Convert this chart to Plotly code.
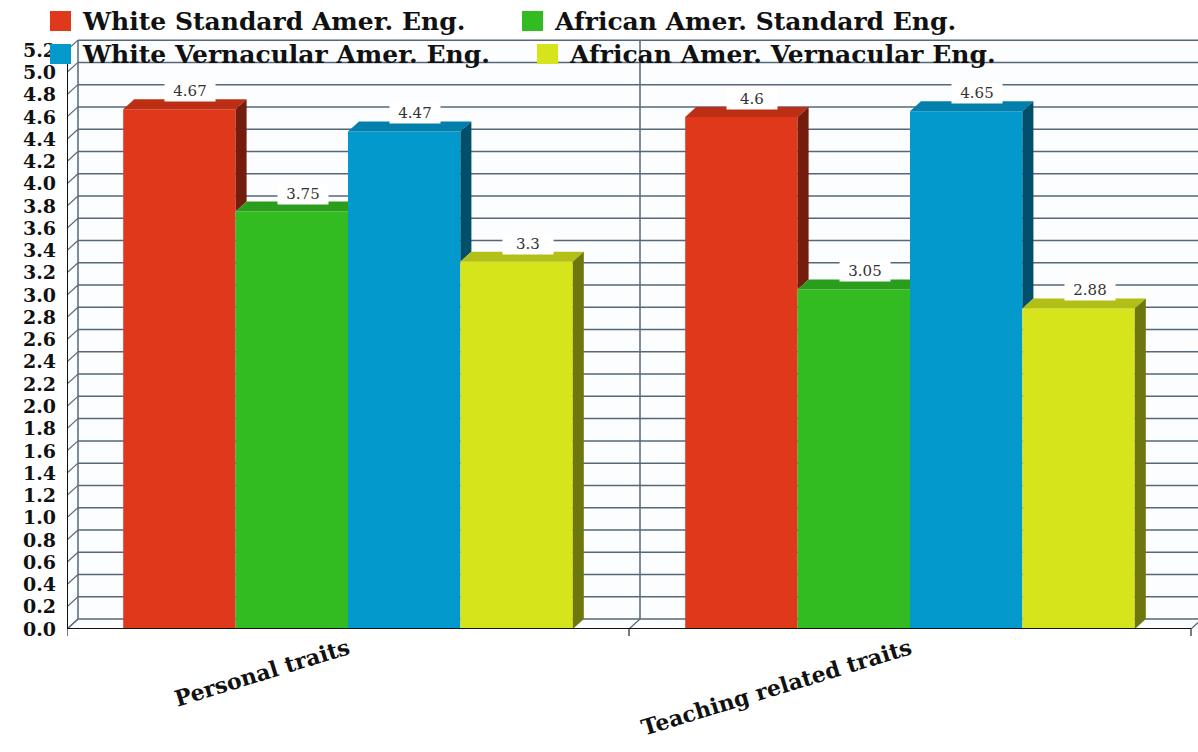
import plotly.graph_objects as go

# ---- data -------------------------------------------------------------
categories = ["Personal traits", "Teaching related traits"]
series_names = [
    "White Standard Amer. Eng.",
    "African Amer. Standard Eng.",
    "White Vernacular Amer. Eng.",
    "African Amer. Vernacular Eng.",
]
white_standard = [4.67, 4.6]
african_standard = [3.75, 3.05]
white_vernacular = [4.47, 4.65]
african_vernacular = [3.3, 2.88]
series_values = [white_standard, african_standard, white_vernacular, african_vernacular]
series_colors = ["#E0381A", "#33BB22", "#0399CC", "#D5E41B"]
y_ticks = [round(0.2 * i, 1) for i in range(27)]
y_tick_labels = [f"{t:.1f}" for t in y_ticks]

# ---- geometry ---------------------------------------------------------
W, H = 1198, 752
L, R, T, B = 67, 0, 39, 123
PLOT_W, PLOT_H = W - L - R, H - T - B
X_MIN = -0.5
X_MAX = X_MIN + PLOT_W / 562.0
Y_MAX = 5.3
BARGAP = 0.2
DEPTH_X_PX, DEPTH_Y_PX = 11, 10  # pseudo-3D depth offset in pixels

dxd = DEPTH_X_PX * (X_MAX - X_MIN) / PLOT_W
dyd = DEPTH_Y_PX * Y_MAX / PLOT_H
y_top = y_ticks[-1]


def shade(hex_color, f):
    r, g, b = (int(hex_color[i:i + 2], 16) for i in (1, 3, 5))
    return "#{:02x}{:02x}{:02x}".format(int(r * f), int(g * f), int(b * f))


def paper_x(px):
    return (px - L) / PLOT_W


def paper_y(py):
    return (H - B - py) / PLOT_H


fig = go.Figure()

# front faces of the bars
for name, vals, col in zip(series_names, series_values, series_colors):
    fig.add_trace(go.Bar(
        x=list(range(len(categories))), y=vals, name=name,
        marker=dict(color=col, line=dict(width=0)),
        showlegend=False, hoverinfo="skip",
    ))


def face(xs, ys, color):
    fig.add_trace(go.Scatter(
        x=xs + [xs[0]], y=ys + [ys[0]], mode="lines", fill="toself",
        fillcolor=color, line=dict(width=0, color=color),
        showlegend=False, hoverinfo="skip",
    ))


# top and side faces, hidden parts removed where the next bar stands in front
n = len(series_values)
group_w = 1 - BARGAP
bar_w = group_w / n
annotations = []
for i in range(len(categories)):
    for j, (vals, col) in enumerate(zip(series_values, series_colors)):
        v = vals[i]
        x0 = i - group_w / 2 + j * bar_w
        x1 = x0 + bar_w
        nxt = series_values[j + 1][i] if j + 1 < n else None
        if nxt is not None and nxt > v:
            face([x0, x1, x1, x0 + dxd], [v, v, v + dyd, v + dyd], shade(col, 0.84))
        else:
            face([x0, x1, x1 + dxd, x0 + dxd], [v, v, v + dyd, v + dyd], shade(col, 0.84))
        if nxt is None:
            face([x1, x1, x1 + dxd, x1 + dxd], [0, v, v + dyd, dyd], shade(col, 0.52))
        elif nxt < v:
            face([x1, x1, x1 + dxd, x1 + dxd], [nxt, v, v + dyd, nxt + dyd], shade(col, 0.52))
        annotations.append(dict(
            x=(x0 + x1) / 2 + dxd, y=v, xref="x", yref="y",
            text=f"{v:g}", showarrow=False, yanchor="middle", yshift=18,
            bgcolor="white", width=48, height=18,
            font=dict(family="DejaVu Serif", size=15, color="#333333"),
        ))

# back wall, side wall and floor
grid_col = "#56677a"
shapes = []
for t in y_ticks:
    shapes.append(dict(type="line", xref="x", yref="y", layer="below",
                       x0=X_MIN + dxd, x1=X_MAX, y0=t + dyd, y1=t + dyd,
                       line=dict(color=grid_col, width=1.5)))
    shapes.append(dict(type="line", xref="x", yref="y", layer="below",
                       x0=X_MIN, x1=X_MIN + dxd, y0=t, y1=t + dyd,
                       line=dict(color=grid_col, width=1.2)))
boundaries = [X_MIN + k for k in range(len(categories) + 1)]
for bx in boundaries[:-1]:
    shapes.append(dict(type="line", xref="x", yref="y", layer="below",
                       x0=bx + dxd, x1=bx + dxd, y0=dyd, y1=y_top + dyd,
                       line=dict(color=grid_col, width=1.5)))
for bx in boundaries:
    shapes.append(dict(type="line", xref="x", yref="y", layer="below",
                       x0=bx, x1=bx + dxd, y0=0, y1=dyd,
                       line=dict(color=grid_col, width=1.2)))
    shapes.append(dict(type="line", xref="x", yref="paper",
                       x0=bx, x1=bx, y0=0, y1=-7 / PLOT_H,
                       line=dict(color="#222222", width=1.2)))
# front axis lines
shapes.append(dict(type="line", xref="x", yref="y", x0=X_MIN, x1=boundaries[-1],
                   y0=0, y1=0, line=dict(color="#111111", width=2)))
shapes.append(dict(type="line", xref="x", yref="y", x0=X_MIN, x1=X_MIN,
                   y0=0, y1=y_top, line=dict(color="#111111", width=2)))

# legend: two rows of coloured squares with bold labels
legend_slots = [(50, 21), (522, 21), (50, 54), (537, 54)]
for (lx, ly), name, col in zip(legend_slots, series_names, series_colors):
    shapes.append(dict(type="rect", xref="paper", yref="paper",
                       x0=paper_x(lx), x1=paper_x(lx + 21),
                       y0=paper_y(ly - 10), y1=paper_y(ly + 10),
                       fillcolor=col, line=dict(width=0)))
    annotations.append(dict(
        x=paper_x(lx + 30), y=paper_y(ly), xref="paper", yref="paper",
        text=name, showarrow=False, xanchor="left", yanchor="middle",
        font=dict(family="DejaVu Serif", size=25, color="#111111", weight="bold"),
    ))

fig.update_layout(
    width=W, height=H,
    margin=dict(l=L, r=R, t=T, b=B, pad=0, autoexpand=False),
    paper_bgcolor="white", plot_bgcolor="#fcfdfe",
    barmode="group", bargap=BARGAP, bargroupgap=0,
    shapes=shapes, annotations=annotations, showlegend=False,
    xaxis=dict(
        range=[X_MIN, X_MAX], tickvals=list(range(len(categories))),
        ticktext=categories, tickangle=-17, ticks="", automargin=False,
        showgrid=False, zeroline=False, showline=False,
        tickfont=dict(family="DejaVu Serif", size=22, color="#111111", weight="bold"),
        ticklabelstandoff=2,
    ),
    yaxis=dict(
        range=[0, Y_MAX], tickvals=y_ticks, ticktext=y_tick_labels, ticks="",
        automargin=False,
        showgrid=False, zeroline=False, showline=False,
        tickfont=dict(family="DejaVu Serif", size=19, color="#111111", weight="bold"),
        ticklabelstandoff=10,
    ),
)

fig.write_html("out.html")
